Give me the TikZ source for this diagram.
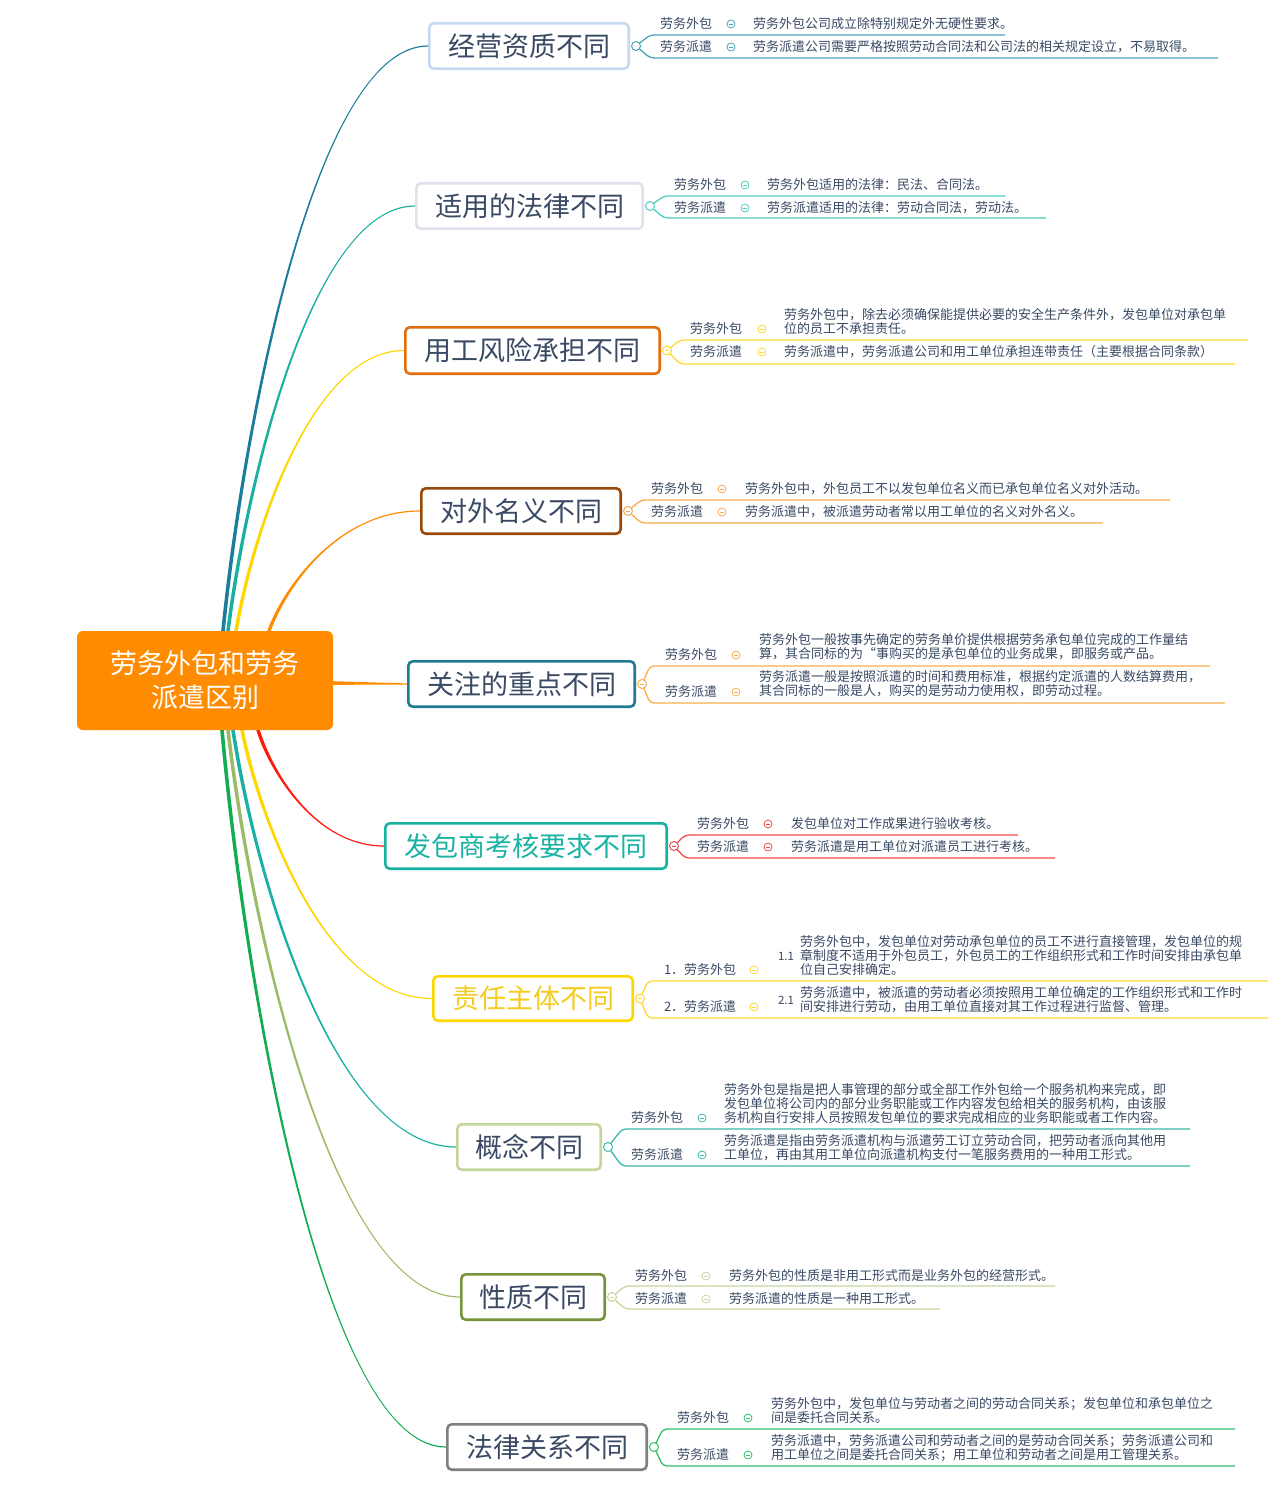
\documentclass[tikz,border=0pt]{standalone}
\usepackage{fontspec}
\newfontfamily\cjk{Noto Sans CJK SC}
\usetikzlibrary{calc}
\definecolor{txtc}{HTML}{3A4A64}
\definecolor{rootc}{HTML}{FF8C00}
\definecolor{L1}{HTML}{1B7C9C}\definecolor{L2}{HTML}{1AB0A0}\definecolor{L3}{HTML}{FFD700}
\definecolor{L4}{HTML}{FF8C00}\definecolor{L5}{HTML}{FF8C00}\definecolor{L6}{HTML}{FF1A0A}
\definecolor{L7}{HTML}{FFD700}\definecolor{L8}{HTML}{1AB0A6}\definecolor{L9}{HTML}{9DBB66}
\definecolor{L10}{HTML}{12AC52}
\definecolor{B1}{HTML}{C6D9F1}\definecolor{B2}{HTML}{E3DFEB}\definecolor{B3}{HTML}{E46C0A}
\definecolor{B4}{HTML}{984807}\definecolor{B5}{HTML}{1F7A93}\definecolor{B6}{HTML}{17B3A0}
\definecolor{B7}{HTML}{FFD700}\definecolor{B8}{HTML}{C3D69B}\definecolor{B9}{HTML}{77933C}
\definecolor{B10}{HTML}{7F7F7F}
\definecolor{C1}{HTML}{4BA3B8}\definecolor{C2}{HTML}{4FCDBF}\definecolor{C3}{HTML}{FFD930}
\definecolor{C4}{HTML}{FBA94E}\definecolor{C5}{HTML}{FBB04E}\definecolor{C6}{HTML}{F04A4A}
\definecolor{C7}{HTML}{FFD930}\definecolor{C8}{HTML}{3BB9A9}\definecolor{C9}{HTML}{C5D7A0}
\definecolor{C10}{HTML}{2EC06A}
\definecolor{T6}{HTML}{1AB3A3}\definecolor{T7}{HTML}{F5CB1E}
\tikzset{
  lbl/.style={anchor=west, inner sep=0pt, outer sep=0pt, text=txtc, font=\cjk\fontsize{13}{14}\selectfont, text height=11.44pt, text depth=1.56pt},
  numl/.style={inner sep=0pt, text=txtc, font=\cjk\fontsize{11.5}{13}\selectfont},
  topic/.style={draw=#1, line width=2.6pt, rounded corners=4.5pt, fill=white, inner sep=0pt, font=\cjk\fontsize{27}{30}\selectfont, text height=23.76pt, text depth=3.24pt, text=txtc},
  rootbox/.style={fill=rootc, rounded corners=6pt, inner sep=0pt, minimum width=256pt, minimum height=99pt, text=white, align=center, font=\cjk\fontsize{27}{34}\selectfont},
  mk/.style={circle, draw=#1, line width=0.8pt, fill=white, minimum size=8pt, inner sep=0pt, path picture={\draw[#1, line width=0.7pt] ([xshift=-2pt]path picture bounding box.center) -- ([xshift=2pt]path picture bounding box.center);}},
  knob/.style={circle, draw=#1, line width=1pt, fill=white, minimum size=9pt, inner sep=0pt},
  knobm/.style={knob=#1, path picture={\draw[#1, line width=0.8pt] ([xshift=-2.2pt]path picture bounding box.center) -- ([xshift=2.2pt]path picture bounding box.center);}},
  cline/.style={draw=#1, line width=1.3pt, rounded corners=4pt},
}
% tapered curved branch: #1 start, #2 end, #3 colour, #4 end half width (sign gives side)
\newcommand\mmcurve[4]{%
  \fill[#3] let \p1=(#1), \p2=(#2) in
   ({\x1-1.8pt},{\y1}) .. controls ({\x1+0.1*(\x2-\x1)-1.8pt},{\y1+0.35*(\y2-\y1)}) and ({\x1+0.45*(\x2-\x1)},{\y2+(#4pt)}) .. ({\x2},{\y2+(#4pt)})
   -- ({\x2},{\y2-(#4pt)}) .. controls ({\x1+0.45*(\x2-\x1)},{\y2-(#4pt)}) and ({\x1+0.1*(\x2-\x1)+1.8pt},{\y1+0.35*(\y2-\y1)}) .. ({\x1+1.8pt},{\y1}) -- cycle;}
% child connector: colour, knob coordinate, name, x start, y, x end
\newcommand\childline[6]{%
  \coordinate (#3s) at (#4,#5); \coordinate (#3e) at (#6,#5);
  \draw[cline=#1] (#2.center) -- (#3s) -- (#3e);}
\begin{document}
\begin{tikzpicture}[x=1pt,y=-1pt]
\fill[white] (0,0) rectangle (1280,1487);
\useasboundingbox (0,0) rectangle (1280,1487);
% start points on the central topic
\coordinate (s1) at (223,631);
\coordinate (s2) at (228,631);
\coordinate (s3) at (236,631);
\coordinate (s4) at (269,631);
\coordinate (s5) at (333,683);
\coordinate (s6) at (258,730);
\coordinate (s7) at (242,730);
\coordinate (s8) at (233,730);
\coordinate (s9) at (228,730);
\coordinate (s10) at (222,730);
% main topics
\node[topic=B1, minimum width=199.4pt, minimum height=45.4pt] (b1) at (529,46) {经营资质不同};
\node[topic=B2, minimum width=226.4pt, minimum height=45.4pt] (b2) at (529.5,206) {适用的法律不同};
\node[topic=B3, minimum width=254.4pt, minimum height=46.4pt] (b3) at (532.5,350.5) {用工风险承担不同};
\node[topic=B4, minimum width=199.4pt, minimum height=45.4pt] (b4) at (521,511) {对外名义不同};
\node[topic=B5, minimum width=226.4pt, minimum height=45.4pt] (b5) at (521.5,684) {关注的重点不同};
\node[topic=B6, minimum width=281.4pt, minimum height=45.4pt, text=T6] (b6) at (526,846) {发包商考核要求不同};
\node[topic=B7, minimum width=199.4pt, minimum height=44.4pt, text=T7] (b7) at (533,998.5) {责任主体不同};
\node[topic=B8, minimum width=143.4pt, minimum height=45.4pt] (b8) at (529,1147) {概念不同};
\node[topic=B9, minimum width=143.4pt, minimum height=45.4pt] (b9) at (533,1297) {性质不同};
\node[topic=B10, minimum width=199.4pt, minimum height=45.4pt] (b10) at (547,1447) {法律关系不同};
% branches
\mmcurve{s1}{b1.west}{L1}{0.6}
\mmcurve{s2}{b2.west}{L2}{0.6}
\mmcurve{s3}{b3.west}{L3}{0.6}
\mmcurve{s4}{b4.west}{L4}{0.6}
\fill[L5] ($(s5)+(0,-1.8)$) -- ($(b5.west)+(0,-0.6)$) -- ($(b5.west)+(0,0.6)$) -- ($(s5)+(0,1.8)$) -- cycle;
\mmcurve{s6}{b6.west}{L6}{-0.6}
\mmcurve{s7}{b7.west}{L7}{-0.6}
\mmcurve{s8}{b8.west}{L8}{-0.6}
\mmcurve{s9}{b9.west}{L9}{-0.6}
\mmcurve{s10}{b10.west}{L10}{-0.6}
% central topic
\node[rootbox] (root) at (205,680.5) {劳务外包和劳务\\派遣区别};

% ---------- branch 1
\coordinate (k1c) at ([xshift=6pt]b1.east);
\childline{C1}{k1c}{u1a}{650}{35}{1005}
\childline{C1}{k1c}{u1b}{650}{58}{1218}
\node[knob=C1] (k1) at (k1c) {};
\node[lbl] (l1a) at (660,24) {劳务外包};
\node[mk=C1] (m1a) at (731,24) {};
\node[lbl] (d1a) at (753,24) {劳务外包公司成立除特别规定外无硬性要求。};
\node[lbl] (l1b) at (660,47) {劳务派遣};
\node[mk=C1] (m1b) at (731,47) {};
\node[lbl] (d1b) at (753,47) {劳务派遣公司需要严格按照劳动合同法和公司法的相关规定设立，不易取得。};

% ---------- branch 2
\coordinate (k2c) at ([xshift=6pt]b2.east);
\childline{C2}{k2c}{u2a}{664}{196}{1005}
\childline{C2}{k2c}{u2b}{664}{218}{1046}
\node[knob=C2] (k2) at (k2c) {};
\node[lbl] (l2a) at (674,185) {劳务外包};
\node[mk=C2] (m2a) at (745,185) {};
\node[lbl] (d2a) at (767,185) {劳务外包适用的法律：民法、合同法。};
\node[lbl] (l2b) at (674,208) {劳务派遣};
\node[mk=C2] (m2b) at (745,208) {};
\node[lbl] (d2b) at (767,208) {劳务派遣适用的法律：劳动合同法，劳动法。};

% ---------- branch 3
\coordinate (k3c) at ([xshift=6pt]b3.east);
\childline{C3}{k3c}{u3a}{680}{340}{1248}
\childline{C3}{k3c}{u3b}{680}{364}{1235}
\node[knobm=C3] (k3) at (k3c) {};
\node[lbl] (l3a) at (690,329) {劳务外包};
\node[mk=C3] (m3a) at (762,329) {};
\node[lbl] (d3a1) at (784,315) {劳务外包中，除去必须确保能提供必要的安全生产条件外，发包单位对承包单};
\node[lbl] (d3a2) at (784,329) {位的员工不承担责任。};
\node[lbl] (l3b) at (690,352) {劳务派遣};
\node[mk=C3] (m3b) at (762,352) {};
\node[lbl] (d3b) at (784,352) {劳务派遣中，劳务派遣公司和用工单位承担连带责任（主要根据合同条款）};

% ---------- branch 4
\coordinate (k4c) at ([xshift=6pt]b4.east);
\childline{C4}{k4c}{u4a}{641}{500}{1170}
\childline{C4}{k4c}{u4b}{641}{523}{1103}
\node[knobm=C4] (k4) at (k4c) {};
\node[lbl] (l4a) at (651,489) {劳务外包};
\node[mk=C4] (m4a) at (722,489) {};
\node[lbl] (d4a) at (745,489) {劳务外包中，外包员工不以发包单位名义而已承包单位名义对外活动。};
\node[lbl] (l4b) at (651,512) {劳务派遣};
\node[mk=C4] (m4b) at (722,512) {};
\node[lbl] (d4b) at (745,512) {劳务派遣中，被派遣劳动者常以用工单位的名义对外名义。};

% ---------- branch 5
\coordinate (k5c) at ([xshift=6pt]b5.east);
\childline{C5}{k5c}{u5a}{650}{666}{1210}
\childline{C5}{k5c}{u5b}{650}{703}{1225}
\node[knobm=C5] (k5) at (k5c) {};
\node[lbl] (l5a) at (665,655) {劳务外包};
\node[mk=C5] (m5a) at (736,655) {};
\node[lbl] (d5a1) at (759,640) {劳务外包一般按事先确定的劳务单价提供根据劳务承包单位完成的工作量结};
\node[lbl] (d5a2) at (759,654) {算，其合同标的为“事购买的是承包单位的业务成果，即服务或产品。};
\node[lbl] (l5b) at (665,692) {劳务派遣};
\node[mk=C5] (m5b) at (736,692) {};
\node[lbl] (d5b1) at (759,677) {劳务派遣一般是按照派遣的时间和费用标准，根据约定派遣的人数结算费用，};
\node[lbl] (d5b2) at (759,691) {其合同标的一般是人，购买的是劳动力使用权，即劳动过程。};

% ---------- branch 6
\coordinate (k6c) at ([xshift=6pt]b6.east);
\childline{C6}{k6c}{u6a}{685}{835}{1018}
\childline{C6}{k6c}{u6b}{685}{858}{1055}
\node[knobm=C6] (k6) at (k6c) {};
\node[lbl] (l6a) at (697,824) {劳务外包};
\node[mk=C6] (m6a) at (768,824) {};
\node[lbl] (d6a) at (791,824) {发包单位对工作成果进行验收考核。};
\node[lbl] (l6b) at (697,847) {劳务派遣};
\node[mk=C6] (m6b) at (768,847) {};
\node[lbl] (d6b) at (791,847) {劳务派遣是用工单位对派遣员工进行考核。};

% ---------- branch 7
\coordinate (k7c) at ([xshift=6pt]b7.east);
\childline{C7}{k7c}{u7a}{648}{981}{1268}
\childline{C7}{k7c}{u7b}{648}{1018}{1268}
\node[knobm=C7] (k7) at (k7c) {};
\node[lbl] (l7a) at (664,970) {1．劳务外包};
\node[mk=C7] (m7a) at (754,970) {};
\node[numl] (n7a) at (786,956) {1.1};
\node[lbl] (d7a1) at (800,942) {劳务外包中，发包单位对劳动承包单位的员工不进行直接管理，发包单位的规};
\node[lbl] (d7a2) at (800,956) {章制度不适用于外包员工，外包员工的工作组织形式和工作时间安排由承包单};
\node[lbl] (d7a3) at (800,970) {位自己安排确定。};
\node[lbl] (l7b) at (664,1007) {2．劳务派遣};
\node[mk=C7] (m7b) at (754,1007) {};
\node[numl] (n7b) at (786,1000) {2.1};
\node[lbl] (d7b1) at (800,993) {劳务派遣中，被派遣的劳动者必须按照用工单位确定的工作组织形式和工作时};
\node[lbl] (d7b2) at (800,1007) {间安排进行劳动，由用工单位直接对其工作过程进行监督、管理。};

% ---------- branch 8
\coordinate (k8c) at ([xshift=6pt]b8.east);
\childline{C8}{k8c}{u8a}{622}{1129}{1190}
\childline{C8}{k8c}{u8b}{622}{1166}{1190}
\node[knob=C8] (k8) at (k8c) {};
\node[lbl] (l8a) at (631,1118) {劳务外包};
\node[mk=C8] (m8a) at (702,1118) {};
\node[lbl] (d8a1) at (724,1090) {劳务外包是指是把人事管理的部分或全部工作外包给一个服务机构来完成，即};
\node[lbl] (d8a2) at (724,1104) {发包单位将公司内的部分业务职能或工作内容发包给相关的服务机构，由该服};
\node[lbl] (d8a3) at (724,1118) {务机构自行安排人员按照发包单位的要求完成相应的业务职能或者工作内容。};
\node[lbl] (l8b) at (631,1155) {劳务派遣};
\node[mk=C8] (m8b) at (702,1155) {};
\node[lbl] (d8b1) at (724,1141) {劳务派遣是指由劳务派遣机构与派遣劳工订立劳动合同，把劳动者派向其他用};
\node[lbl] (d8b2) at (724,1155) {工单位，再由其用工单位向派遣机构支付一笔服务费用的一种用工形式。};

% ---------- branch 9
\coordinate (k9c) at ([xshift=6pt]b9.east);
\childline{C9}{k9c}{u9a}{625}{1286}{1055}
\childline{C9}{k9c}{u9b}{625}{1309}{940}
\node[knobm=C9] (k9) at (k9c) {};
\node[lbl] (l9a) at (635,1276) {劳务外包};
\node[mk=C9] (m9a) at (706,1276) {};
\node[lbl] (d9a) at (729,1276) {劳务外包的性质是非用工形式而是业务外包的经营形式。};
\node[lbl] (l9b) at (635,1299) {劳务派遣};
\node[mk=C9] (m9b) at (706,1299) {};
\node[lbl] (d9b) at (729,1299) {劳务派遣的性质是一种用工形式。};

% ---------- branch 10
\coordinate (k10c) at ([xshift=6pt]b10.east);
\childline{C10}{k10c}{u10a}{663}{1429}{1235}
\childline{C10}{k10c}{u10b}{663}{1466}{1235}
\node[knob=C10] (k10) at (k10c) {};
\node[lbl] (l10a) at (677,1418) {劳务外包};
\node[mk=C10] (m10a) at (748,1418) {};
\node[lbl] (d10a1) at (771,1404) {劳务外包中，发包单位与劳动者之间的劳动合同关系；发包单位和承包单位之};
\node[lbl] (d10a2) at (771,1418) {间是委托合同关系。};
\node[lbl] (l10b) at (677,1455) {劳务派遣};
\node[mk=C10] (m10b) at (748,1455) {};
\node[lbl] (d10b1) at (771,1441) {劳务派遣中，劳务派遣公司和劳动者之间的是劳动合同关系；劳务派遣公司和};
\node[lbl] (d10b2) at (771,1455) {用工单位之间是委托合同关系；用工单位和劳动者之间是用工管理关系。};
\end{tikzpicture}
\end{document}
